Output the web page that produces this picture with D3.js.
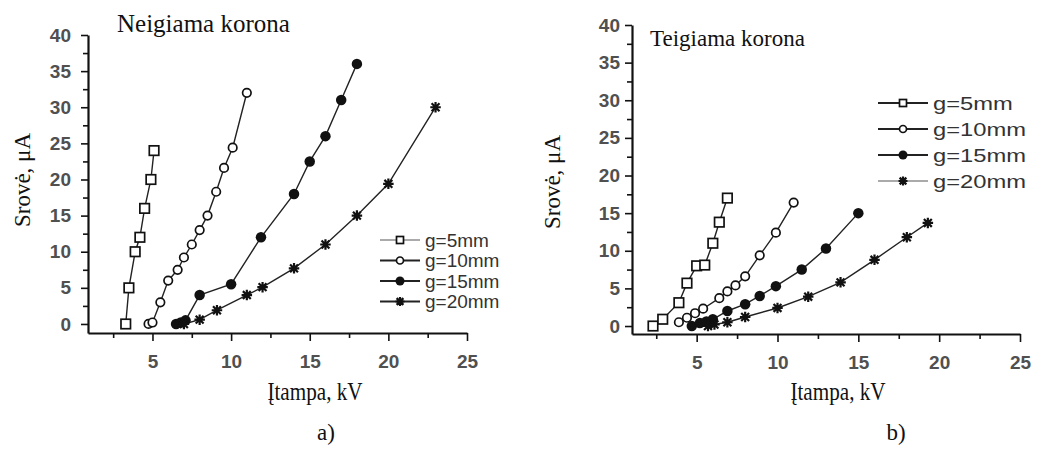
<!DOCTYPE html>
<html>
<head>
<meta charset="utf-8">
<script src="https://cdn.jsdelivr.net/npm/d3@7"></script>
<style>
  body { margin: 0; background: #fff; }
  svg { display: block; }
</style>
</head>
<body>
<div id="chart"></div>
<script>
// values: [voltage kV, current uA]
const seriesNames = ["g=5mm", "g=10mm", "g=15mm", "g=20mm"];
const xTickValues = [5, 10, 15, 20, 25];
const yTickValues = [0, 5, 10, 15, 20, 25, 30, 35, 40];

const negG5 = [[3.3,0],[3.5,5],[3.9,10],[4.2,12],[4.5,16],[4.9,20],[5.1,24]];
const negG10 = [[4.75,0],[5.0,0.2],[5.5,3],[6.0,6],[6.6,7.5],[7.0,9.2],[7.5,11],[8.0,13],[8.5,15],[9.05,18.3],[9.55,21.6],[10.1,24.4],[11.0,32]];
const negG15 = [[6.5,0],[6.8,0.2],[7.1,0.5],[8.0,4],[10.0,5.5],[11.9,12],[14.0,18],[15.0,22.5],[16.0,26],[17.0,31],[18.0,36]];
const negG20 = [[7.0,0],[8.0,0.6],[9.1,1.9],[11.0,4],[12.0,5.1],[14.0,7.7],[16.0,11],[18.0,15],[20.0,19.4],[23.0,30]];

const posG5 = [[2.3,0],[2.9,0.9],[3.9,3.1],[4.4,5.7],[5.0,8.0],[5.5,8.1],[6.0,11],[6.4,13.8],[6.9,17]];
const posG10 = [[3.9,0.5],[4.4,1.1],[4.9,1.7],[5.4,2.3],[6.4,3.7],[6.9,4.6],[7.4,5.4],[8.0,6.6],[8.9,9.4],[9.9,12.4],[11.0,16.4]];
const posG15 = [[4.7,0],[5.2,0.4],[5.6,0.6],[6.0,0.9],[6.9,2.0],[8.0,2.9],[8.9,4.0],[9.9,5.3],[11.5,7.5],[13.0,10.3],[15.0,15]];
const posG20 = [[5.7,0],[6.1,0.2],[6.9,0.5],[8.0,1.2],[10.0,2.4],[11.9,3.9],[13.9,5.8],[16.0,8.8],[18.0,11.8],[19.3,13.7]];

const width = 1037;
const height = 453;
const markerKinds = ["square", "circle", "dot", "star"];

const svg = d3.select("#chart").append("svg")
    .attr("width", width)
    .attr("height", height);

function drawMarker(g, kind, x, y, s) {
    if (kind === "square") {
        g.append("rect")
            .attr("x", x - s / 2).attr("y", y - s / 2)
            .attr("width", s).attr("height", s)
            .attr("fill", "#fff").attr("stroke", "#111").attr("stroke-width", 1.7);
    } else if (kind === "circle") {
        g.append("circle")
            .attr("cx", x).attr("cy", y).attr("r", s / 2)
            .attr("fill", "#fff").attr("stroke", "#111").attr("stroke-width", 1.7);
    } else if (kind === "dot") {
        g.append("circle")
            .attr("cx", x).attr("cy", y).attr("r", s / 2 + 1)
            .attr("fill", "#111");
    } else {
        const r = s / 2 + 1, d = r * 0.75;
        g.append("path")
            .attr("d", `M${x - r},${y}H${x + r}M${x},${y - r}V${y + r}` +
                `M${x - d},${y - d}L${x + d},${y + d}M${x - d},${y + d}L${x + d},${y - d}`)
            .attr("stroke", "#111").attr("stroke-width", 2.2).attr("fill", "none");
    }
}

function styleTicks(a) {
    a.selectAll("text")
        .attr("font-family", "Liberation Sans, Arial, sans-serif")
        .attr("font-size", 19)
        .attr("font-weight", "bold")
        .attr("fill", "#505050");
}

function drawPanel(p) {
    const g = svg.append("g");
    const x = d3.scaleLinear().domain(p.xDomain).range(p.xRange);
    const y = d3.scaleLinear().domain(p.yDomain).range(p.yRange);

    // axes with major + minor ticks
    const xMinor = d3.range(2.5, 25, 5);
    const yMinor = d3.range(2.5, 40, 5);
    const axisY = p.yRange[0];
    const axisX = p.xRange[0];

    g.append("g").attr("transform", `translate(0,${axisY})`)
        .call(d3.axisBottom(x).tickValues(xMinor).tickSize(5).tickFormat(""))
        .call(a => a.select(".domain").remove())
        .call(a => a.selectAll("line").attr("stroke", "#111").attr("stroke-width", 1.6));
    g.append("g").attr("transform", `translate(0,${axisY})`)
        .call(d3.axisBottom(x).tickValues(xTickValues).tickSize(8).tickSizeOuter(0).tickPadding(14))
        .call(a => a.select(".domain").attr("stroke", "#111").attr("stroke-width", 2.2))
        .call(a => a.selectAll("line").attr("stroke", "#111").attr("stroke-width", 1.6))
        .call(styleTicks);

    g.append("g").attr("transform", `translate(${axisX},0)`)
        .call(d3.axisLeft(y).tickValues(yMinor).tickSize(5).tickFormat(""))
        .call(a => a.select(".domain").remove())
        .call(a => a.selectAll("line").attr("stroke", "#111").attr("stroke-width", 1.6));
    g.append("g").attr("transform", `translate(${axisX},0)`)
        .call(d3.axisLeft(y).tickValues(yTickValues).tickSize(7).tickSizeOuter(0).tickPadding(p.yPad))
        .call(a => a.select(".domain").attr("stroke", "#111").attr("stroke-width", 2.2))
        .call(a => a.selectAll("line").attr("stroke", "#111").attr("stroke-width", 1.6))
        .call(styleTicks);

    // series
    const line = d3.line().x(d => x(d[0])).y(d => y(d[1]));
    p.series.forEach((data, i) => {
        g.append("path")
            .datum(data)
            .attr("d", line)
            .attr("fill", "none")
            .attr("stroke", "#222")
            .attr("stroke-width", 1.4);
    });
    p.series.forEach((data, i) => {
        data.forEach(d => drawMarker(g, markerKinds[i], x(d[0]), y(d[1]), i === 0 ? 9.5 : 8.5));
    });

    // legend
    seriesNames.forEach((name, i) => {
        const ly = p.legend.y + i * p.legend.step;
        const lx = p.legend.x;
        g.append("line")
            .attr("x1", lx).attr("x2", lx + p.legend.len)
            .attr("y1", ly).attr("y2", ly)
            .attr("stroke", i === p.legend.grey ? "#aaa" : "#222")
            .attr("stroke-width", 2.2);
        drawMarker(g, markerKinds[i], lx + p.legend.len / 2, ly, 7);
        g.append("text")
            .attr("transform", `translate(${lx + p.legend.len + 5},${ly + 6.5}) scale(${p.legend.sx},1)`)
            .attr("font-family", "Liberation Sans, Arial, sans-serif")
            .attr("font-size", 19)
            .attr("fill", "#333")
            .text(name);
    });

    // titles
    g.append("text")
        .attr("x", p.title.x).attr("y", p.title.y)
        .attr("font-family", "Liberation Serif, Times New Roman, serif")
        .attr("font-size", p.title.size)
        .attr("fill", "#111")
        .text(p.title.text);

    g.append("text")
        .attr("transform", `translate(${p.yLabel.x},${p.yLabel.y}) rotate(-90)`)
        .attr("text-anchor", "middle")
        .attr("font-family", "Liberation Serif, Times New Roman, serif")
        .attr("font-size", 23)
        .attr("fill", "#111")
        .text("Srovė, μA");

    g.append("text")
        .attr("transform", `translate(${p.xLabel.x},400) scale(0.92,1.1)`)
        .attr("text-anchor", "middle")
        .attr("font-family", "Liberation Serif, Times New Roman, serif")
        .attr("font-size", 23)
        .attr("fill", "#111")
        .text("Įtampa, kV");

    g.append("text")
        .attr("x", p.tag.x).attr("y", 440)
        .attr("text-anchor", "middle")
        .attr("font-family", "Liberation Serif, Times New Roman, serif")
        .attr("font-size", 23)
        .attr("fill", "#111")
        .text(p.tag.text);
}

drawPanel({
    xDomain: [0.9, 25], xRange: [88, 467],
    yDomain: [-1.25, 40], yRange: [333, 35],
    yPad: 10,
    series: [negG5, negG10, negG15, negG20],
    legend: { x: 380, y: 240, step: 20.5, len: 40, grey: 0, sx: 1 },
    title: { x: 117, y: 32, size: 25, text: "Neigiama korona" },
    yLabel: { x: 30, y: 180 },
    xLabel: { x: 315 },
    tag: { x: 326, text: "a)" }
});

drawPanel({
    xDomain: [1, 25], xRange: [632, 1020],
    yDomain: [-1.06, 40], yRange: [334, 25],
    yPad: 5,
    series: [posG5, posG10, posG15, posG20],
    legend: { x: 878, y: 103, step: 26, len: 50, grey: 3, sx: 1.25 },
    title: { x: 650, y: 46, size: 23, text: "Teigiama korona" },
    yLabel: { x: 560, y: 182 },
    xLabel: { x: 838 },
    tag: { x: 896, text: "b)" }
});
</script>
</body>
</html>
